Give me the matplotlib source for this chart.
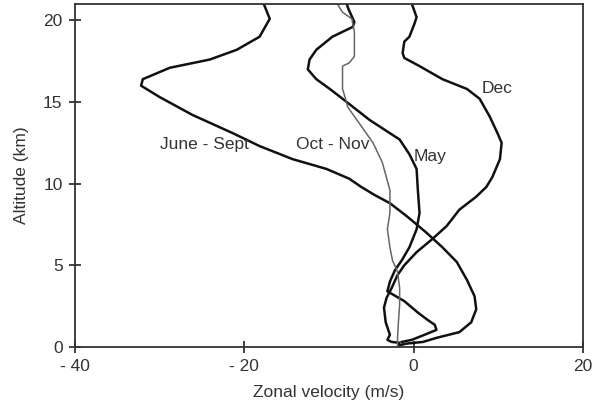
import matplotlib
matplotlib.use("Agg")
import matplotlib.pyplot as plt

# profiles: zonal velocity (m/s) vs altitude (km)
june_x = [-17.7, -17.0, -18.2, -20.9, -24.1, -28.8, -32.0, -32.2, -30.0, -26.1, -21.4, -18.2,
          -14.3, -10.3, -7.6, -6.2, -4.6, -2.8, -0.8, 1.5, 3.4, 5.1, 6.3, 7.2, 7.4, 6.8, 5.4,
          2.7, 1.1, -0.8, -1.7]
june_y = [21.0, 20.1, 19.0, 18.2, 17.6, 17.1, 16.4, 16.0, 15.3, 14.2, 13.1, 12.3,
          11.5, 10.9, 10.3, 9.8, 9.3, 8.8, 8.0, 7.0, 6.1, 5.2, 4.1, 3.1, 2.3, 1.5, 0.9,
          0.55, 0.3, 0.2, 0.1]

dec_x = [-0.2, 0.35, 0.1, -0.5, -1.1, -1.3, -1.1, 0.7, 3.4, 6.3, 7.8, 9.0, 9.9, 10.4, 10.2,
         9.3, 8.6, 7.4, 5.4, 3.9, 2.2, 0.35, -1.1, -1.9, -2.6, -3.2, -3.5, -3.3, -2.8, -3.1,
         -2.6, -1.7]
dec_y = [21.0, 20.2, 19.8, 19.0, 18.7, 18.0, 17.7, 17.2, 16.4, 15.8, 15.2, 14.1, 13.1, 12.5, 11.5,
         10.4, 9.8, 9.2, 8.4, 7.4, 6.6, 5.8, 5.0, 4.4, 3.6, 3.0, 2.4, 1.5, 0.74, 0.43,
         0.3, 0.25]

may_x = [-7.9, -7.7, -7.0, -7.2, -9.6, -11.5, -12.3, -12.5, -11.5, -9.9, -8.4, -5.2, -1.65,
         -0.5, 0.35, 0.5, 0.7, 0.35, -0.5, -1.4, -2.2, -2.8, -3.1, -1.1, 0.5, 1.65, 2.5, 2.7,
         1.3, -0.2, -1.4]
may_y = [21.0, 20.7, 19.9, 19.6, 19.0, 18.2, 17.6, 17.0, 16.4, 15.8, 15.2, 13.9, 12.7,
         11.8, 10.9, 9.6, 8.2, 7.2, 6.1, 5.3, 4.7, 4.0, 3.4, 2.8, 2.1, 1.65, 1.35, 1.04,
         0.74, 0.43, 0.3]

octnov_x = [-9.0, -8.4, -7.3, -7.0, -7.0, -7.6, -8.4, -8.4, -8.4, -8.1, -7.8, -6.7, -4.8,
            -3.7, -2.8, -2.8, -3.1, -2.8, -2.5, -1.9, -1.65, -1.65, -1.8, -1.9, -1.9]
octnov_y = [21.0, 20.5, 20.1, 19.3, 17.8, 17.4, 17.2, 16.4, 15.8, 15.3, 14.7, 13.9, 12.5,
            11.3, 9.6, 8.2, 7.2, 6.1, 5.3, 4.6, 3.6, 2.6, 1.5, 0.55, 0.1]

xticks = [-40, -20, 0, 20]
xticklabels = ["- 40", "- 20", "0", "20"]
yticks = [0, 5, 10, 15, 20]

txt = "#333333"
fs = 12.5
plt.rcParams['font.family'] = ['Liberation Sans', 'DejaVu Sans']

fig = plt.figure(figsize=(5.96, 4.09), dpi=100)
ax = fig.add_axes([0.126, 0.152, 0.852, 0.838])

ax.plot(june_x, june_y, color="#111111", lw=1.8)
ax.plot(dec_x, dec_y, color="#111111", lw=1.8)
ax.plot(may_x, may_y, color="#111111", lw=1.8)
ax.plot(octnov_x, octnov_y, color="#666666", lw=1.1)

ax.text(-24.7, 12.4, "June - Sept", fontsize=fs, color=txt, ha="center", va="center")
ax.text(-9.6, 12.4, "Oct - Nov", fontsize=fs, color=txt, ha="center", va="center")
ax.text(1.9, 11.65, "May", fontsize=fs, color=txt, ha="center", va="center")
ax.text(9.9, 15.8, "Dec", fontsize=fs, color=txt, ha="center", va="center")

ax.set_xlim(-40, 20)
ax.set_ylim(0, 21)
ax.set_xticks(xticks)
ax.set_xticklabels(xticklabels)
ax.set_yticks(yticks)
ax.tick_params(direction="inout", length=8, width=1.2, colors="#222222",
               labelcolor=txt, labelsize=fs, pad=5)
for s in ax.spines.values():
    s.set_color("#333333")
    s.set_linewidth(1.3)

ax.set_xlabel("Zonal velocity (m/s)", fontsize=fs, color=txt, labelpad=8)
ax.set_ylabel("Altitude (km)", fontsize=fs, color=txt, labelpad=10)

fig.savefig("out.png", dpi=100)
